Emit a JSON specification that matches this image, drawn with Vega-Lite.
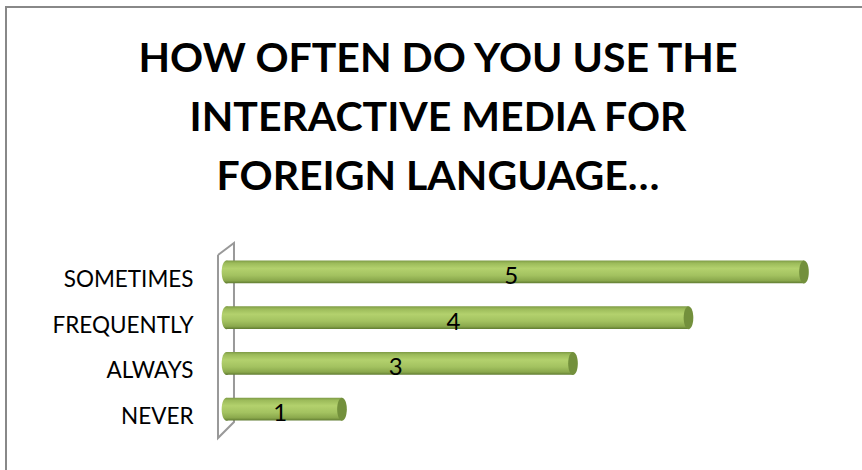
{
  "$schema": "https://vega.github.io/schema/vega-lite/v6.json",
  "autosize": {"type": "none"},
  "padding": {"left": 6, "top": 7, "right": 0, "bottom": 0},
  "width": 880,
  "height": 480,
  "background": "white",
  "config": {
    "view": {"stroke": "#888888", "strokeWidth": 2},
    "font": "Lato"
  },
  "title": {
    "text": ["HOW OFTEN DO YOU USE THE", "INTERACTIVE MEDIA FOR", "FOREIGN LANGUAGE…"],
    "font": "Lato",
    "fontSize": 41,
    "fontWeight": "bold",
    "color": "#000000",
    "lineHeight": 59,
    "anchor": "middle",
    "baseline": "top",
    "offset": -192,
    "dx": -8
  },
  "datasets": {
    "answers": [
      {"answer": "SOMETIMES", "count": 5},
      {"answer": "FREQUENTLY", "count": 4},
      {"answer": "ALWAYS", "count": 3},
      {"answer": "NEVER", "count": 1}
    ],
    "wall": [
      {"k": 0, "wx": -0.0736, "wy": -0.372},
      {"k": 1, "wx": -0.0736, "wy": 3.635},
      {"k": 2, "wx": 0.0649, "wy": 3.284},
      {"k": 3, "wx": 0.0649, "wy": -0.635},
      {"k": 4, "wx": -0.0736, "wy": -0.372}
    ]
  },
  "layer": [
    {
      "data": {"name": "wall"},
      "mark": {"type": "line", "stroke": "#999999", "strokeWidth": 2},
      "encoding": {
        "x": {"field": "wx", "type": "quantitative", "scale": {"domain": [-1.909, 5.71], "nice": false, "zero": false}, "axis": null},
        "y": {"field": "wy", "type": "quantitative", "scale": {"domain": [-5.803, 4.708], "nice": false, "zero": false, "reverse": true}, "axis": null},
        "order": {"field": "k", "type": "quantitative"}
      }
    },
    {
      "data": {"name": "answers"},
      "encoding": {
        "x": {"field": "count", "type": "quantitative", "scale": {"domain": [-1.909, 5.71], "nice": false, "zero": false}, "axis": null},
        "y": {
          "field": "answer", "type": "nominal",
          "sort": ["SOMETIMES", "FREQUENTLY", "ALWAYS", "NEVER"],
          "scale": {"range": [242, 425], "paddingInner": 0.5, "paddingOuter": 0.25},
          "axis": {
            "title": null, "domain": false, "ticks": false, "grid": false,
            "offset": -189, "labelPadding": 2, "labelFont": "Lato", "labelFontSize": 22.5,
            "labelColor": "#000000", "labelOffset": 8, "labelLimit": 300
          }
        }
      },
      "layer": [
        {
          "mark": {
            "type": "point", "filled": true, "size": 529, "opacity": 1, "strokeWidth": 0,
            "shape": "M0,-1A0.42,1 0 1,0 0,1A0.42,1 0 1,0 0,-1Z",
            "fill": {"gradient": "linear", "x1": 0, "y1": 0, "x2": 0, "y2": 1,
              "stops": [
                {"offset": 0, "color": "#7d9a45"},
                {"offset": 0.12, "color": "#9cbb5a"},
                {"offset": 0.35, "color": "#b3d16d"},
                {"offset": 0.65, "color": "#a3c260"},
                {"offset": 0.88, "color": "#8aa84c"},
                {"offset": 1, "color": "#5f7a30"}
              ]}
          },
          "encoding": {"x": {"datum": 0, "type": "quantitative"}}
        },
        {
          "mark": {
            "type": "bar",
            "fill": {"gradient": "linear", "x1": 0, "y1": 0, "x2": 0, "y2": 1,
              "stops": [
                {"offset": 0, "color": "#7d9a45"},
                {"offset": 0.12, "color": "#9cbb5a"},
                {"offset": 0.35, "color": "#b3d16d"},
                {"offset": 0.65, "color": "#a3c260"},
                {"offset": 0.88, "color": "#8aa84c"},
                {"offset": 1, "color": "#5f7a30"}
              ]}
          }
        },
        {
          "mark": {
            "type": "point", "filled": true, "size": 529, "opacity": 1, "strokeWidth": 0,
            "shape": "M0,-1A0.42,1 0 1,0 0,1A0.42,1 0 1,0 0,-1Z",
            "fill": "#73903c"
          }
        }
      ]
    },
    {
      "data": {"name": "answers"},
      "mark": {"type": "text", "font": "Lato", "fontSize": 24, "color": "#000000", "baseline": "middle", "align": "center", "dy": 5, "dx": -4},
      "encoding": {
        "x": {"field": "count", "type": "quantitative", "scale": {"domain": [-3.818, 11.42], "nice": false, "zero": false}, "axis": null},
        "y": {
          "field": "answer", "type": "nominal",
          "sort": ["SOMETIMES", "FREQUENTLY", "ALWAYS", "NEVER"],
          "scale": {"range": [242, 425], "paddingInner": 0.5, "paddingOuter": 0.25},
          "axis": null
        },
        "text": {"field": "count", "type": "quantitative"}
      }
    }
  ],
  "resolve": {"scale": {"x": "independent", "y": "independent"}}
}
